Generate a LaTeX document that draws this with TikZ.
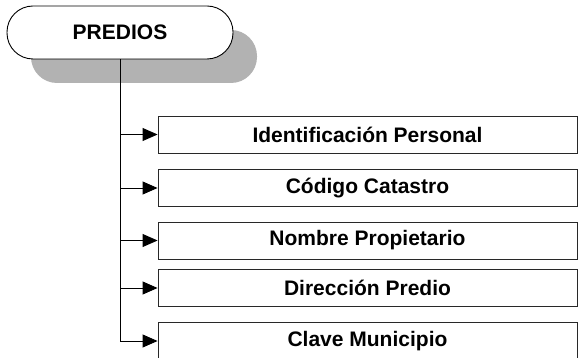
\documentclass[tikz,border=0pt]{standalone}
\usepackage{fontspec}
\setmainfont{Liberation Sans}
\definecolor{pdShadow}{RGB}{178, 178, 178}
\definecolor{pdLine}{RGB}{40, 40, 40}
\usetikzlibrary{arrows.meta, shadows}
\tikzset{
  rootbox/.style={rectangle, rounded corners=26pt, draw=black, line width=0.9pt, fill=white, minimum width=226pt, minimum height=53pt, inner sep=0pt, font=\fontsize{21}{25}\selectfont\bfseries, drop shadow={shadow xshift=24pt, shadow yshift=-24pt, fill=pdShadow, opacity=1}},
  fieldbox/.style={rectangle, draw=pdLine, line width=0.9pt, fill=white, minimum width=419pt, minimum height=37pt, inner sep=0pt, font=\fontsize{21}{25}\selectfont\bfseries},
  fieldarrow/.style={-{Triangle[length=15pt, width=13pt]}, line width=0.9pt, black},
}
\begin{document}
\begin{tikzpicture}[x=1pt, y=-1pt]
  \useasboundingbox (0,0) rectangle (581,358);

  % Root
  \node[rootbox] (predios) at (120, 32.5) {PREDIOS};

  % Fields
  \node[fieldbox] (idpers) at (367.5, 134.5) {Identificación Personal};
  \node[fieldbox] (codcat) at (367.5, 188) {Código Catastro};
  \node[fieldbox] (nomprop) at (367.5, 240.5) {Nombre Propietario};
  \node[fieldbox] (dirpred) at (367.5, 288) {Dirección Predio};
  \node[fieldbox] (clavemun) at (367.5, 341) {Clave Municipio};

  % Arrows
  \draw[fieldarrow] (predios.south) |- (idpers.west);
  \draw[fieldarrow] (predios.south) |- (codcat.west);
  \draw[fieldarrow] (predios.south) |- (nomprop.west);
  \draw[fieldarrow] (predios.south) |- (dirpred.west);
  \draw[fieldarrow] (predios.south) |- (clavemun.west);
\end{tikzpicture}
\end{document}
